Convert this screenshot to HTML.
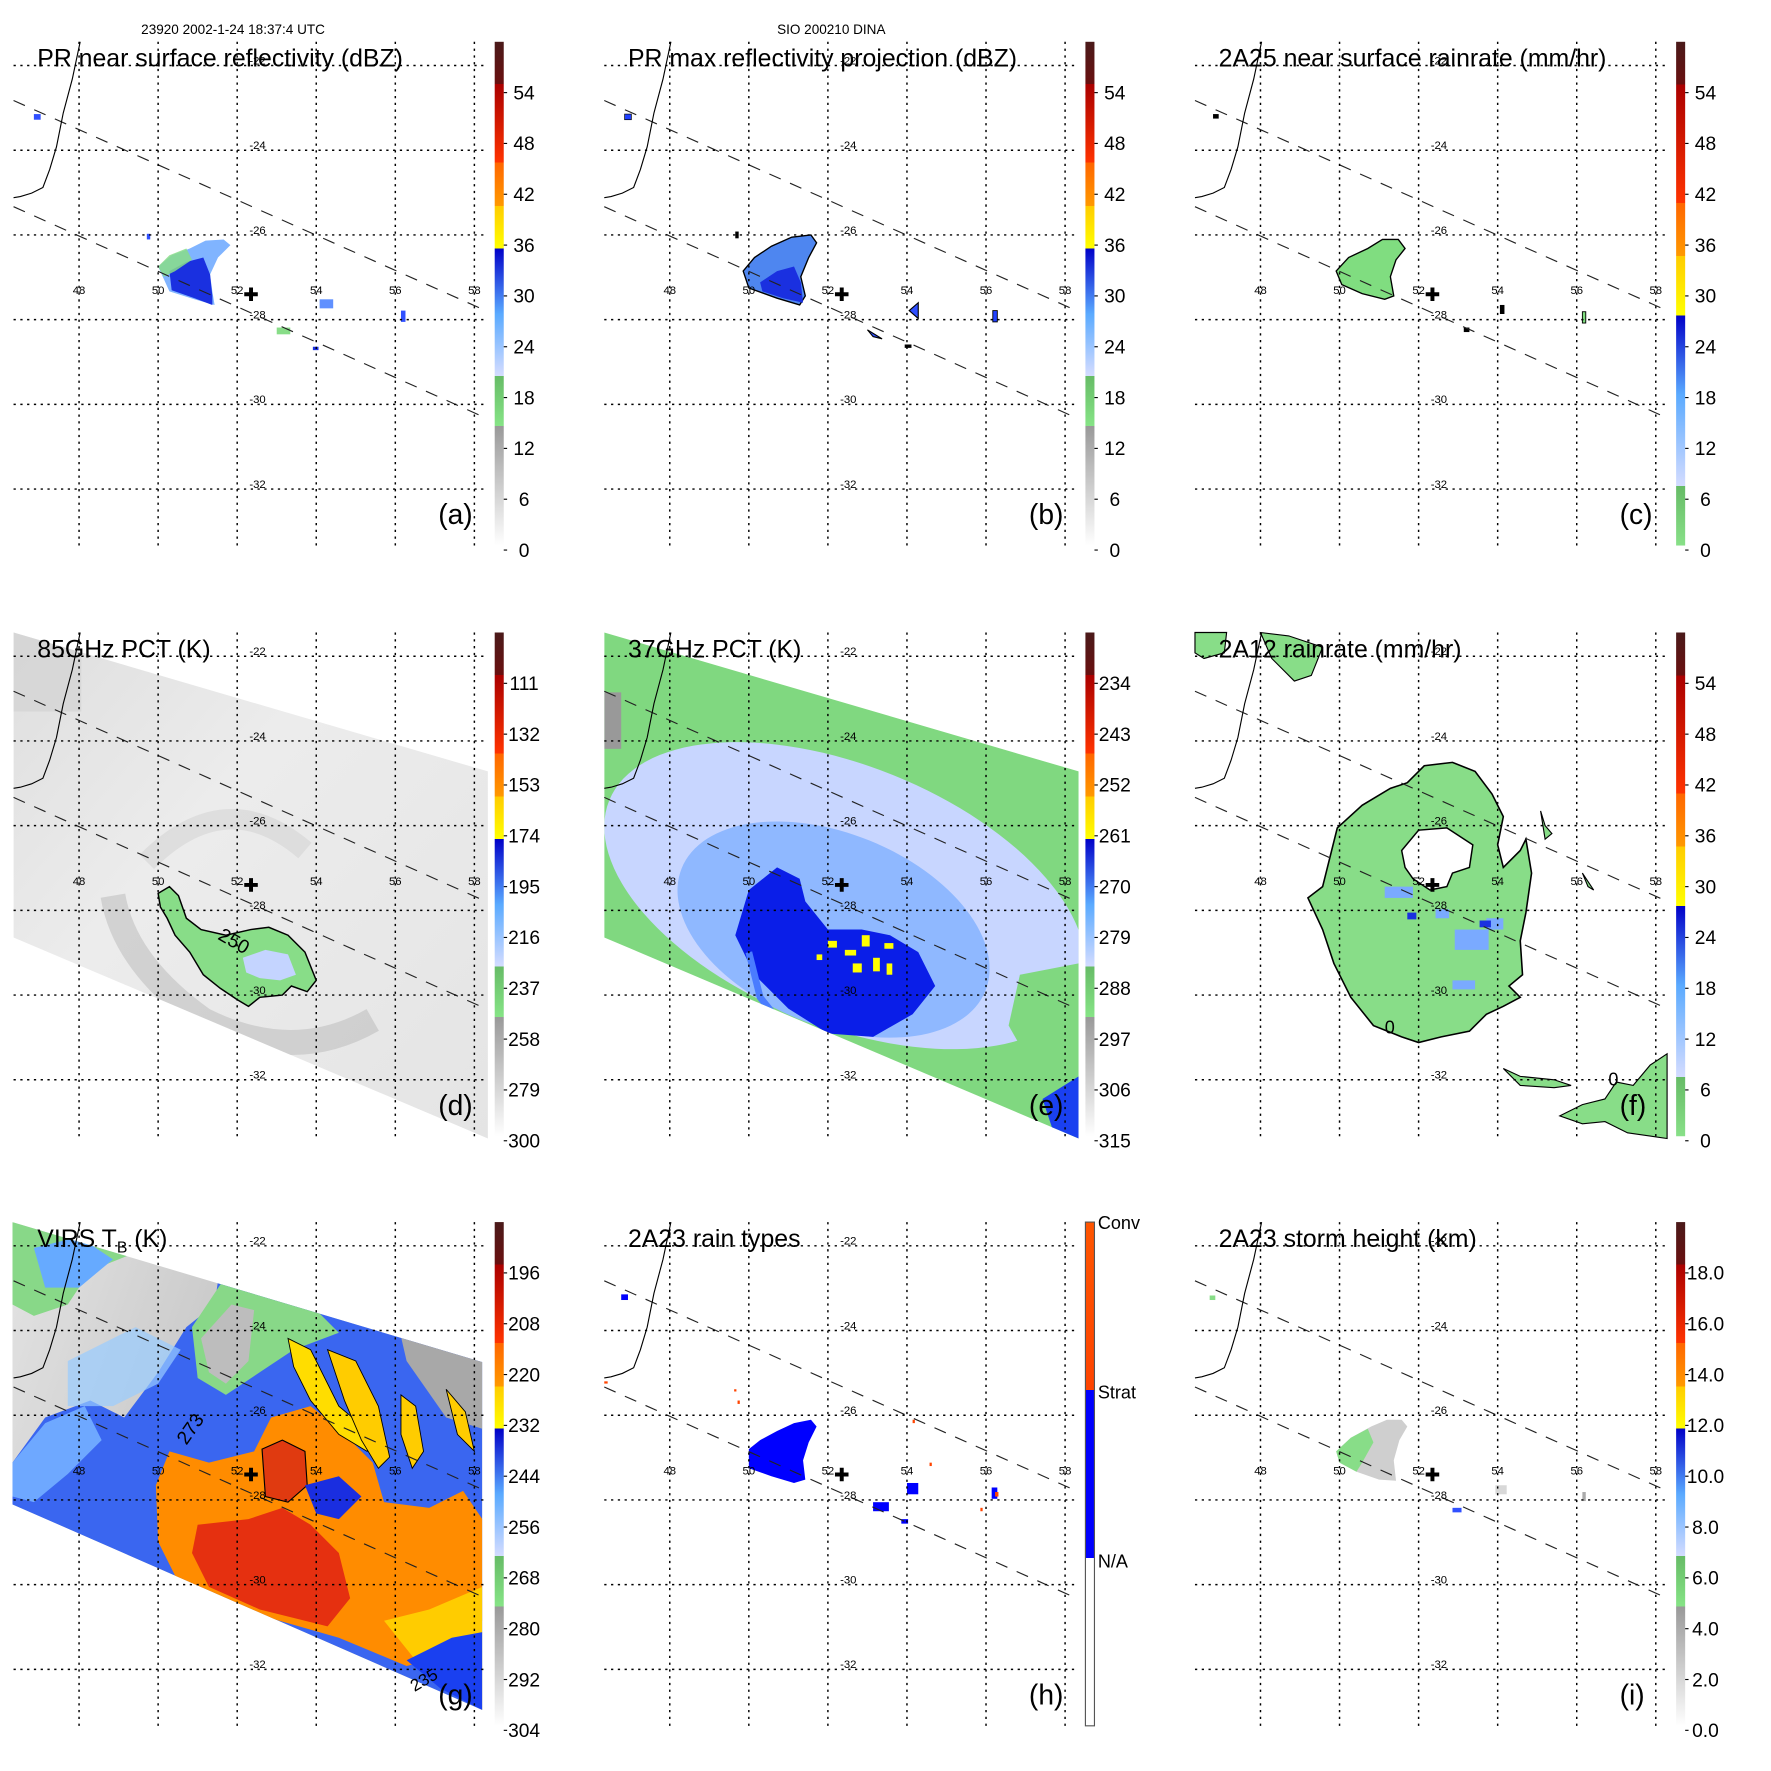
<!DOCTYPE html>
<html><head><meta charset="utf-8">
<style>
html,body{margin:0;padding:0;background:#fff;}
svg{display:block;}
text{font-family:"Liberation Sans",sans-serif;}
</style></head>
<body>
<svg id="fig" xmlns="http://www.w3.org/2000/svg" width="1771" height="1771" viewBox="0 0 1568 1568">
<defs>
<linearGradient id="cbA" x1="0" y1="1" x2="0" y2="0">
<stop offset="0" stop-color="#ffffff"/><stop offset="0.237" stop-color="#999999"/>
<stop offset="0.237" stop-color="#86e486"/><stop offset="0.337" stop-color="#66bb66"/>
<stop offset="0.337" stop-color="#d4dcff"/><stop offset="0.46" stop-color="#5aaaff"/><stop offset="0.59" stop-color="#0000c8"/>
<stop offset="0.59" stop-color="#ffff00"/><stop offset="0.674" stop-color="#ffcc00"/>
<stop offset="0.674" stop-color="#ff9900"/><stop offset="0.76" stop-color="#ff6600"/>
<stop offset="0.76" stop-color="#ff3300"/><stop offset="0.916" stop-color="#aa0000"/>
<stop offset="0.916" stop-color="#6a1010"/><stop offset="1" stop-color="#4a1a1a"/>
</linearGradient>
<linearGradient id="cbC" x1="0" y1="1" x2="0" y2="0">
<stop offset="0" stop-color="#88e088"/><stop offset="0.118" stop-color="#66bb66"/>
<stop offset="0.118" stop-color="#d4dcff"/><stop offset="0.3" stop-color="#5aaaff"/><stop offset="0.457" stop-color="#0000c8"/>
<stop offset="0.457" stop-color="#ffff00"/><stop offset="0.575" stop-color="#ffcc00"/>
<stop offset="0.575" stop-color="#ff9900"/><stop offset="0.68" stop-color="#ff6600"/>
<stop offset="0.68" stop-color="#ff3300"/><stop offset="0.915" stop-color="#aa0000"/>
<stop offset="0.915" stop-color="#6a1010"/><stop offset="1" stop-color="#4a1a1a"/>
</linearGradient>
<linearGradient id="cbH" x1="0" y1="1" x2="0" y2="0">
<stop offset="0" stop-color="#ffffff"/><stop offset="0.333" stop-color="#ffffff"/>
<stop offset="0.333" stop-color="#0000ff"/><stop offset="0.667" stop-color="#0000ff"/>
<stop offset="0.667" stop-color="#ff4400"/><stop offset="1" stop-color="#ff5500"/>
</linearGradient>
<linearGradient id="pctBg" x1="0" y1="0" x2="1" y2="1">
<stop offset="0" stop-color="#dcdcdc"/><stop offset="0.4" stop-color="#ececec"/><stop offset="1" stop-color="#e4e4e4"/>
</linearGradient>
<linearGradient id="virsBg" x1="0" y1="0" x2="1" y2="0.4">
<stop offset="0" stop-color="#e6e6e6"/><stop offset="0.5" stop-color="#c8c8c8"/><stop offset="1" stop-color="#b8b8b8"/>
</linearGradient>
<clipPath id="swathD"><polygon points="12,37 432,160 432,485 12,307"/></clipPath>
<clipPath id="swathG"><polygon points="11,37 427,161 427,469 11,287"/></clipPath>
</defs>

<text x="125" y="30" font-size="12">23920 2002-1-24 18:37:4 UTC</text>
<text x="688" y="30" font-size="12">SIO 200210 DINA</text>

<g transform="translate(0,0)">
<path d="M140,236 L152,226 L168,220 L182,213 L198,212 L204,217 L193,228 L186,243 L188,258 L190,270 L172,265 L150,258 Z" fill="#80b4ff"/>
<path d="M150,240 L165,232 L180,228 L186,243 L188,262 L188,270 L172,264 L152,257 Z" fill="#1a30e0"/>
<path d="M140,236 L150,226 L165,220 L170,230 L155,240 L145,245 Z" fill="#88dd88" opacity="0.85"/>
<rect x="30" y="101" width="6" height="5" fill="#3050ff"/><rect x="130" y="207" width="3" height="5" fill="#3050ff"/>
<rect x="283" y="265" width="12" height="8" fill="#6090ff"/><rect x="245" y="290" width="12" height="6" fill="#88dd88"/>
<rect x="355" y="275" width="4" height="10" fill="#3050ff"/><rect x="277" y="307" width="5" height="3" fill="#1a30e0"/>
</g>

<g transform="translate(523,0)">
<path d="M135,240 L145,228 L160,218 L178,210 L195,208 L200,215 L193,228 L186,245 L190,262 L185,270 L165,264 L140,255 Z" fill="#4e86f0" stroke="#000" stroke-width="1.2"/>
<path d="M150,250 L165,240 L180,236 L186,250 L188,268 L170,264 L152,258 Z" fill="#1a30e0"/>
<rect x="30" y="101" width="6" height="5" fill="#2040ff" stroke="#000" stroke-width="0.6"/>
<path d="M282,275 L290,268 L290,282 Z" fill="#3050ff" stroke="#000"/><path d="M245,292 L258,300 L250,298 Z" fill="#3050ff" stroke="#000"/>
<rect x="356" y="275" width="4" height="10" fill="#2040ff" stroke="#000" stroke-width="0.8"/>
<rect x="128" y="205" width="3" height="6" fill="#000"/><rect x="278" y="305" width="6" height="3" fill="#000"/>
</g>

<g transform="translate(1046,0)">
<path d="M137,240 L148,228 L165,220 L178,212 L192,212 L198,220 L190,230 L185,245 L188,262 L180,265 L160,260 L142,252 Z" fill="#80dd80" stroke="#000" stroke-width="1.2"/>
<rect x="28" y="101" width="5" height="4" fill="#000"/><rect x="282" y="270" width="4" height="8" fill="#000"/>
<rect x="355" y="276" width="3" height="10" fill="#80dd80" stroke="#000" stroke-width="0.8"/>
<rect x="250" y="290" width="5" height="4" fill="#000"/>
</g>

<g transform="translate(0,523)">
<g clip-path="url(#swathD)">
<rect x="0" y="0" width="440" height="500" fill="url(#pctBg)"/>
<path d="M100,270 Q110,330 180,380 Q260,420 330,380" fill="none" stroke="#b8b8b8" stroke-width="22" opacity="0.5"/>
<path d="M130,240 Q200,170 270,230" fill="none" stroke="#cfcfcf" stroke-width="18" opacity="0.5"/>
<rect x="12" y="37" width="60" height="70" fill="#d0d0d0" opacity="0.6"/>
</g>
<path d="M140,268 L150,262 L158,270 L165,290 L178,300 L200,305 L222,300 L238,298 L255,305 L270,320 L280,345 L272,355 L258,350 L250,358 L230,360 L220,368 L210,362 L195,352 L180,340 L168,320 L155,305 L148,290 L142,280 Z" fill="#88dd88" stroke="#000" stroke-width="1.3"/>
<path d="M215,325 L235,318 L255,322 L262,340 L248,345 L230,343 L218,338 Z" fill="#c4d4ff"/>
<text x="192" y="308" font-size="17" transform="rotate(30 192 308)">250</text>
</g>

<g transform="translate(523,523)">
<g clip-path="url(#swathD)">
<rect x="0" y="0" width="440" height="500" fill="#80d880"/>
<ellipse cx="225" cy="270" rx="225" ry="115" transform="rotate(22 225 270)" fill="#c8d6ff"/>
<ellipse cx="215" cy="300" rx="145" ry="85" transform="rotate(22 215 300)" fill="#8fb8ff"/>
<path d="M165,245 L185,255 L190,275 L210,300 L240,300 L265,305 L290,320 L305,350 L285,375 L250,395 L210,392 L175,370 L145,340 L128,305 L140,265 Z" fill="#0a1ee8"/>
<path d="M140,320 L150,360 L170,385" fill="none" stroke="#4a7cff" stroke-width="6"/>
<g fill="#ffff00"><rect x="210" y="310" width="8" height="6"/><rect x="225" y="318" width="10" height="5"/><rect x="240" y="305" width="7" height="10"/><rect x="250" y="325" width="6" height="12"/><rect x="232" y="330" width="8" height="8"/><rect x="260" y="312" width="8" height="5"/><rect x="200" y="322" width="5" height="5"/><rect x="262" y="330" width="5" height="10"/></g>
<path d="M380,340 L432,330 L432,440 L390,420 L370,385 Z" fill="#80d880"/>
<rect x="12" y="90" width="15" height="50" fill="#999"/>
<path d="M400,450 L432,430 L432,490 L410,480 Z" fill="#1a40f0"/>
</g>
</g>

<g transform="translate(1046,523)">
<path d="M112,272 L125,262 L138,210 L160,190 L185,175 L200,170 L215,155 L240,152 L260,160 L275,180 L285,200 L280,225 L285,245 L300,230 L305,220 L310,250 L305,285 L300,310 L302,340 L290,350 L300,360 L285,368 L270,375 L255,390 L230,395 L210,400 L195,395 L170,385 L150,360 L135,330 L125,300 Z" fill="#88dd88" stroke="#000" stroke-width="1.4"/>
<path d="M195,230 L210,212 L235,210 L258,225 L255,245 L240,250 L235,262 L220,265 L205,255 L198,245 Z" fill="#fff" stroke="#000" stroke-width="1.3"/>
<g fill="#7aaaff"><rect x="180" y="262" width="25" height="10"/><rect x="225" y="282" width="12" height="8"/><rect x="242" y="300" width="30" height="18"/><rect x="270" y="290" width="15" height="10"/><rect x="240" y="345" width="20" height="8"/></g>
<g fill="#1a30e0"><rect x="200" y="285" width="8" height="6"/><rect x="264" y="292" width="10" height="6"/></g>
<path d="M12,37 L40,37 L38,55 L20,60 L12,55 Z M70,37 L95,40 L125,50 L115,75 L100,80 L90,70 L80,60 Z" fill="#88dd88" stroke="#000" stroke-width="1"/>
<path d="M335,465 L355,455 L375,450 L385,435 L400,438 L415,420 L430,410 L430,485 L395,480 L375,470 L355,472 Z" fill="#88dd88" stroke="#000" stroke-width="1"/>
<path d="M285,423 L300,430 L330,433 L345,438 L330,440 L300,438 Z" fill="#88dd88" stroke="#000" stroke-width="1"/>
<path d="M318,195 L322,208 L328,215 L322,220 Z M355,250 L360,262 L365,265 Z" fill="#88dd88" stroke="#000" stroke-width="1"/>
<text x="180" y="392" font-size="16">0</text>
<text x="378" y="438" font-size="16">0</text>
</g>

<g transform="translate(0,1045)">
<g clip-path="url(#swathG)">
<rect x="0" y="0" width="440" height="500" fill="url(#virsBg)"/>
<path d="M11,37 L120,37 L130,60 L80,80 L60,110 L30,120 L11,110 Z" fill="#88d888"/>
<path d="M30,60 L70,50 L100,70 L70,95 L40,95 Z" fill="#66aaff"/>
<path d="M11,287 L11,250 L40,210 L80,195 L110,210 L140,170 L165,130 L190,110 L195,75 L230,70 L270,90 L300,100 L340,100 L380,110 L427,140 L427,469 L11,287 Z" fill="#3a66f0"/>
<path d="M11,250 L40,215 L75,200 L90,230 L60,260 L30,285 L11,280 Z" fill="#6ea8ff"/>
<path d="M170,130 L200,85 L235,80 L270,105 L300,135 L260,150 L230,170 L200,190 L175,175 Z" fill="#88d888"/>
<path d="M178,140 L205,110 L225,115 L220,160 L200,180 L185,170 Z" fill="#bdbdbd"/>
<path d="M345,95 L400,105 L427,130 L427,220 L395,210 L360,160 Z" fill="#a8a8a8"/>
<path d="M60,160 L120,130 L160,150 L140,180 L100,200 L60,200 Z" fill="#99ccff" opacity="0.7"/>
<path d="M138,270 L150,240 L185,250 L225,240 L240,210 L275,200 L300,220 L330,250 L340,285 L380,290 L410,275 L427,300 L427,390 L400,420 L360,430 L300,405 L230,385 L160,360 L140,320 Z" fill="#ff8c00"/>
<path d="M175,305 L220,300 L250,290 L275,305 L300,330 L310,370 L290,395 L230,380 L185,360 L170,330 Z" fill="#e53010"/>
<path d="M232,238 L250,230 L270,240 L272,270 L255,285 L235,280 Z" fill="#e03a10" stroke="#000" stroke-width="1"/>
<path d="M255,140 L275,150 L300,200 L330,225 L325,240 L300,225 L275,195 L260,165 Z" fill="#ffdd00" stroke="#000" stroke-width="0.8"/>
<path d="M290,150 L315,160 L335,200 L345,245 L335,255 L320,230 L305,195 Z" fill="#ffcc00" stroke="#000" stroke-width="0.8"/>
<path d="M355,190 L368,200 L375,240 L365,255 L355,225 Z M395,185 L412,205 L420,240 L405,225 Z" fill="#ffcc00" stroke="#000" stroke-width="0.8"/>
<path d="M270,270 L300,262 L320,280 L300,300 L280,295 Z" fill="#1a2ee0"/>
<path d="M340,390 L380,380 L427,360 L427,469 L380,440 Z" fill="#ffcc00"/>
<path d="M360,425 L400,405 L427,400 L427,469 L390,450 Z" fill="#1a40f0"/>
</g>
<text x="165" y="235" font-size="17" transform="rotate(-55 165 235)">273</text>
<text x="367" y="453" font-size="15" transform="rotate(-30 367 453)">235</text>
</g>

<g transform="translate(523,1045)">
<path d="M140,238 L150,230 L165,222 L180,215 L195,212 L200,218 L193,232 L188,248 L190,265 L180,268 L160,262 L140,255 Z" fill="#0000ff"/>
<rect x="27" y="101" width="6" height="5" fill="#0000ff"/>
<rect x="250" y="285" width="14" height="8" fill="#0000ff"/><rect x="280" y="268" width="10" height="10" fill="#0000ff"/>
<rect x="275" y="300" width="6" height="4" fill="#0000ff"/><rect x="355" y="272" width="5" height="10" fill="#0000ff"/><rect x="358" y="276" width="3" height="4" fill="#ff4400"/>
<g fill="#ff4400"><rect x="130" y="195" width="2" height="3"/><rect x="127" y="185" width="2" height="2"/><rect x="285" y="212" width="2" height="3"/><rect x="300" y="250" width="2" height="3"/><rect x="345" y="290" width="2" height="3"/><rect x="12" y="178" width="3" height="2"/></g>
</g>

<g transform="translate(1046,1045)">
<path d="M137,240 L150,228 L168,218 L182,212 L195,212 L200,218 L193,230 L188,248 L190,266 L175,265 L155,258 L140,250 Z" fill="#cfcfcf"/>
<path d="M137,240 L150,228 L165,220 L170,232 L160,250 L155,258 L140,250 Z" fill="#88dd88"/>
<rect x="25" y="102" width="5" height="4" fill="#88dd88"/>
<rect x="240" y="290" width="8" height="4" fill="#3050ff"/><rect x="278" y="270" width="10" height="8" fill="#d8d8d8"/><rect x="355" y="276" width="3" height="8" fill="#aaa"/>
</g>

<g id="overlay"></g>
</svg>

<script>
const lonTicks = [48, 50, 52, 54, 56, 58];
const latTicks = [-22, -24, -26, -28, -30, -32];
const panelTitles = ["PR near surface reflectivity (dBZ)", "PR max reflectivity projection (dBZ)", "2A25 near surface rainrate (mm/hr)",
  "85GHz PCT (K)", "37GHz PCT (K)", "2A12 rainrate (mm/hr)", "VIRS T", "2A23 rain types", "2A23 storm height (km)"];
const panelLetters = ["(a)", "(b)", "(c)", "(d)", "(e)", "(f)", "(g)", "(h)", "(i)"];
const cbLabelsA = ["54", "48", "42", "36", "30", "24", "18", "12", "6", "0"];
const cbLabelsD = ["111", "132", "153", "174", "195", "216", "237", "258", "279", "300"];
const cbLabelsE = ["234", "243", "252", "261", "270", "279", "288", "297", "306", "315"];
const cbLabelsG = ["196", "208", "220", "232", "244", "256", "268", "280", "292", "304"];
const cbLabelsI = ["18.0", "16.0", "14.0", "12.0", "10.0", "8.0", "6.0", "4.0", "2.0", "0.0"];
const cbLabelsH = ["Conv", "Strat", "N/A"];
const stormLon = [52.35];
const stormLat = [-27.4];

const NS = "http://www.w3.org/2000/svg";
const colOff = [0, 523, 1046], rowOff = [0, 523, 1045];
const X = lon => 70 + (lon - 48) * 35;
const Y = lat => 58 + (-22 - lat) * 37.5;
function mk(tag, attrs, parent) { const e = document.createElementNS(NS, tag); for (const k in attrs) e.setAttribute(k, attrs[k]); parent.appendChild(e); return e; }
const overlay = document.getElementById('overlay');
const cbSets = [cbLabelsA, cbLabelsA, cbLabelsA, cbLabelsD, cbLabelsE, cbLabelsA, cbLabelsG, null, cbLabelsI];
const cbGrad = ["cbA", "cbA", "cbC", "cbA", "cbA", "cbC", "cbA", "cbH", "cbA"];

for (let p = 0; p < 9; p++) {
  const ox = colOff[p % 3], oy = rowOff[Math.floor(p / 3)];
  const g = mk('g', { transform: `translate(${ox},${oy})` }, overlay);
  
  
  const sw1 = mk('line', { x1: 12, y1: 89, x2: 430, y2: 275, stroke: '#222', 'stroke-width': 1, 'stroke-dasharray': '11,9' }, g);
  
  
  const sw2 = mk('line', { x1: 12, y1: 183, x2: 430, y2: 370, stroke: '#222', 'stroke-width': 1, 'stroke-dasharray': '11,9' }, g);
  
  
  const coast = mk('path', { d: 'M71,37 L64,70 L56,100 L50,130 L44,150 L38,166 L28,171 L18,174 L12,175', fill: 'none', stroke: '#000', 'stroke-width': 1 }, g);
  
  
  lonTicks.forEach(lon => {
    const l = mk('line', { x1: X(lon), y1: 37, x2: X(lon), y2: 483, stroke: '#000', 'stroke-width': 1.3, 'stroke-dasharray': '2,4' }, g);
    
    
    const t = mk('text', { x: X(lon), y: Y(-27.4), 'font-size': 10, 'text-anchor': 'middle' }, g);
    t.textContent = lon;
    
    
  });
  latTicks.forEach(lat => {
    const l = mk('line', { x1: 12, y1: Y(lat), x2: 432, y2: Y(lat), stroke: '#000', 'stroke-width': 1.3, 'stroke-dasharray': '2,4' }, g);
    
    
    const t = mk('text', { x: 228, y: Y(lat) - 1, 'font-size': 10, 'text-anchor': 'middle' }, g);
    t.textContent = lat;
    
    
  });
  const cx = X(stormLon[0]), cy = Y(stormLat[0]);
  const cr = mk('path', { d: `M${cx - 6},${cy} H${cx + 6} M${cx},${cy - 6} V${cy + 6}`, stroke: '#000', 'stroke-width': 3.5 }, g);
  
  
  const tt = mk('text', { x: 33, y: 59, 'font-size': 22 }, g);
  tt.textContent = panelTitles[p];
  
  
  if (p === 6) {
    const sub = mk('tspan', { 'font-size': 14, dy: 5 }, tt);
    sub.textContent = 'B';
    const rest = mk('tspan', { dy: -5 }, tt);
    rest.textContent = ' (K)';
  }
  const lt = mk('text', { x: 388, y: 464, 'font-size': 25 }, g);
  lt.textContent = panelLetters[p];
  
  
  const cb = mk('rect', { x: 438, y: 37, width: 8, height: 446, fill: `url(#${cbGrad[p]})`, stroke: p === 7 ? '#555' : 'none', 'stroke-width': 1 }, g);
  
  
  if (p === 7) {
    cbLabelsH.forEach((s, i) => {
      const t = mk('text', { x: 449, y: 43 + i * 150, 'font-size': 16 }, g);
      t.textContent = s;
      
      
    });
  } else {
    cbSets[p].forEach((s, i) => {
      const t = mk('text', { x: 464, y: 88 + i * 45, 'font-size': 17, 'text-anchor': 'middle' }, g);
      t.textContent = s;
      
      
      const tk = mk('line', { x1: 446, y1: 82 + i * 45, x2: 449, y2: 82 + i * 45, stroke: '#000', 'stroke-width': 1 }, g);
      
      
    });
  }
}
</script>
</body></html>
